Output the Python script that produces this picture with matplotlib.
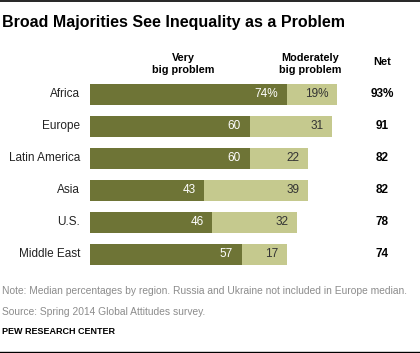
import matplotlib
matplotlib.use('Agg')
import matplotlib.pyplot as plt
from matplotlib.lines import Line2D

# data
regions = ['Africa', 'Europe', 'Latin America', 'Asia', 'U.S.', 'Middle East']
very_big = [74, 60, 60, 43, 46, 57]
moderately_big = [19, 31, 22, 39, 32, 17]
net = [93, 91, 82, 82, 78, 74]

dark = '#6e7436'
light = '#c5c98e'

plt.rcParams['font.family'] = ['Liberation Sans', 'DejaVu Sans']

W, H = 420, 353
fig = plt.figure(figsize=(W / 100, H / 100), dpi=100)

# bar area in pixels: left 90, 2.66 px per point, rows 94.5..254
px_unit = 2.66
left_px = 90
top_px, bot_px = 78.5, 270
ax = fig.add_axes([left_px / W, 1 - bot_px / H, 100 * px_unit / W, (bot_px - top_px) / H])
ax.set_xlim(0, 100)
ax.set_ylim(len(regions) - 0.5, -0.5)
ax.axis('off')

ypos = list(range(len(regions)))
ax.barh(ypos, very_big, height=0.66, color=dark)
ax.barh(ypos, moderately_big, left=very_big, height=0.66, color=light)

pad = 3.2
for i, r in enumerate(regions):
    v1 = very_big[i]
    v2 = moderately_big[i]
    s1 = f'{v1}%' if i == 0 else str(v1)
    s2 = f'{v2}%' if i == 0 else str(v2)
    ax.text(v1 - pad, i, s1, ha='right', va='center', color='white', fontsize=8.5)
    ax.text(v1 + v2 - pad, i, s2, ha='right', va='center', color='#333333', fontsize=8.5)
    ax.text(-3.8, i, r, ha='right', va='center', color='#222222', fontsize=8.5, clip_on=False)
    n = f'{net[i]}%' if i == 0 else str(net[i])
    ax.text(109.8, i, n, ha='center', va='center', color='black', fontsize=8.5,
            fontweight='bold', clip_on=False)

# headers
def fx(px):
    return px / W

def fy(py):
    return 1 - py / H

fig.text(fx(2), fy(22), 'Broad Majorities See Inequality as a Problem', ha='left', va='center',
         fontsize=11.5, fontweight='bold', color='black')
fig.text(fx(183), fy(64), 'Very\nbig problem', ha='center', va='center', fontsize=7.8,
         fontweight='bold', linespacing=1.15)
fig.text(fx(310), fy(64), 'Moderately\nbig problem', ha='center', va='center', fontsize=7.8,
         fontweight='bold', linespacing=1.15)
fig.text(fx(382), fy(62), 'Net', ha='center', va='center', fontsize=8, fontweight='bold')

# footer
fig.text(fx(2), fy(291), 'Note: Median percentages by region. Russia and Ukraine not included in Europe median.',
         ha='left', va='center', fontsize=7.35, color='#8c8c8c')
fig.text(fx(2), fy(312), 'Source: Spring 2014 Global Attitudes survey.', ha='left', va='center',
         fontsize=7.35, color='#8c8c8c')
fig.text(fx(2), fy(331), 'PEW RESEARCH CENTER', ha='left', va='center', fontsize=6.5,
         color='black', fontweight='bold')

# rules top and bottom
fig.add_artist(Line2D([0, 1], [fy(1), fy(1)], color='black', lw=1.2, transform=fig.transFigure))
fig.add_artist(Line2D([0, 1], [fy(351.5), fy(351.5)], color='black', lw=1.0, transform=fig.transFigure))

fig.savefig('out.png', dpi=100, facecolor='white')
